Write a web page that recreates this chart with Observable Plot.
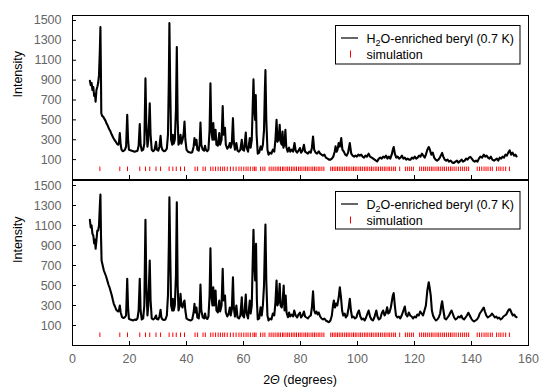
<!DOCTYPE html>
<html><head><meta charset="utf-8">
<script src="https://cdn.jsdelivr.net/npm/d3@7"></script>
<script src="https://cdn.jsdelivr.net/npm/@observablehq/plot@0.6"></script>
<style>body{margin:0;background:#fff;} #chart{width:539px;} #chart svg{display:block;}</style>
</head><body><div id="chart"></div>
<script>
const xTicks = [0, 20, 40, 60, 80, 100, 120, 140, 160];
const yTicks = [100, 300, 500, 700, 900, 1100, 1300, 1500];
const axisLabelY = "Intensity";
const axisLabelX = ["2", "Θ", " (degrees)"];
const legendH2O = ["H", "2", "O-enriched beryl (0.7 K)"];
const legendD2O = ["D", "2", "O-enriched beryl (0.7 K)"];
const simLabel = "simulation";

const simulationPeaks = [9.6, 16.6, 19.3, 23.6, 25.6, 27.1, 29.3, 30.9, 33.9, 35.2, 36.4, 37.9, 39.3,
  43.0, 43.9, 45.8, 46.6, 48.5, 49.3, 50.2, 51.1, 51.9, 52.7, 53.4, 54.3, 55.4, 56.4, 57.4, 58.4,
  59.2, 60.1, 60.9, 61.6, 62.4, 63.3, 63.9, 64.4, 66.0, 66.8, 67.5,
  69.0, 69.7, 70.4, 71.1, 71.8, 72.4, 73.0, 73.7, 74.2, 74.9, 75.5, 76.1, 76.8, 77.4, 78.0, 78.6,
  79.3, 79.9, 80.5, 81.2, 81.8, 82.4, 83.0, 83.7, 84.3, 84.9, 85.5, 86.2, 86.8, 87.5, 88.2,
  90.6, 91.2, 91.8, 92.4, 93.0, 93.6, 94.2, 94.8, 95.5, 96.1, 96.7, 97.3, 98.0, 98.6, 99.2, 99.8,
  100.5, 101.1, 101.7, 102.4, 103.0, 103.6, 104.3, 104.9, 105.5, 106.2, 106.8, 107.4, 108.1, 108.7,
  109.4, 110.0, 110.7, 111.3, 112.0, 112.7, 113.3, 114.8, 116.8, 117.5, 118.2, 118.9, 119.6,
  121.8, 122.5, 123.2, 123.8, 124.5, 125.2, 125.9, 126.5, 127.2, 127.9, 128.5, 129.2, 129.9, 130.5,
  131.2, 131.9, 132.6, 133.2, 133.9, 134.6, 135.4, 136.2, 136.9, 137.6, 138.3, 139.0,
  142.0, 142.8, 143.6, 144.4, 145.1, 145.8, 146.6, 147.3, 148.8, 149.6, 150.3, 151.1, 152.0, 153.3];

const h2oPattern = [[6.1,893],[6.4,850],[6.7,870],[7.0,800],[7.3,830],[7.6,740],[7.9,760],[8.1,683],[8.4,800],[8.7,830],[9.0,870],[9.3,950],[9.6,1200],[9.8,1433],[10.0,900],[10.1,567],[10.4,540],[10.8,530],[11.2,510],[11.6,490],[12.0,460],[12.4,440],[12.8,410],[13.3,385],[13.8,350],[14.3,320],[14.8,295],[15.2,280],[15.6,260],[16.0,250],[16.3,270],[16.6,367],[16.9,250],[17.2,200],[17.6,185],[18.0,190],[18.4,200],[18.8,230],[19.2,550],[19.5,300],[19.8,200],[20.3,195],[20.8,190],[21.3,185],[21.8,180],[22.3,185],[22.8,190],[23.2,240],[23.6,457],[23.9,250],[24.3,190],[24.8,200],[25.2,260],[25.6,917],[25.9,450],[26.3,230],[26.6,300],[27.1,667],[27.4,350],[27.8,200],[28.3,185],[28.8,200],[29.3,280],[29.6,200],[30.1,190],[30.5,230],[30.9,340],[31.2,230],[31.6,195],[32.1,185],[32.6,190],[33.1,210],[33.5,350],[33.8,900],[34.0,1473],[34.3,800],[34.6,300],[35.0,250],[35.2,350],[35.5,260],[35.9,300],[36.3,600],[36.6,1233],[36.9,500],[37.2,250],[37.6,280],[37.9,350],[38.2,260],[38.6,300],[39.0,360],[39.3,483],[39.6,300],[40.0,200],[40.5,180],[41.0,175],[41.5,170],[42.0,175],[42.5,230],[42.8,317],[43.1,250],[43.5,300],[43.8,200],[44.3,190],[44.6,250],[44.9,473],[45.2,250],[45.7,200],[46.2,190],[46.5,240],[46.8,200],[47.3,185],[47.7,200],[48.1,400],[48.4,867],[48.7,400],[49.1,300],[49.4,467],[49.7,300],[50.0,330],[50.2,400],[50.5,250],[51.0,240],[51.5,367],[51.8,250],[52.3,300],[52.7,640],[53.0,350],[53.5,420],[53.8,250],[54.3,210],[54.8,230],[55.2,267],[55.5,220],[55.9,260],[56.3,517],[56.6,280],[57.0,200],[57.5,267],[57.9,190],[58.4,180],[58.9,200],[59.4,300],[59.7,200],[60.2,190],[60.8,373],[61.1,220],[61.6,180],[62.2,317],[62.5,220],[62.9,300],[63.2,600],[63.5,907],[63.8,600],[64.1,500],[64.3,750],[64.6,350],[65.0,160],[65.5,170],[66.0,233],[66.4,200],[66.8,250],[67.2,400],[67.5,800],[67.7,1000],[68.0,500],[68.4,200],[68.8,150],[69.3,170],[69.8,160],[70.3,200],[70.8,180],[71.2,300],[71.6,500],[71.9,280],[72.3,300],[72.7,450],[73.0,280],[73.4,250],[73.7,383],[74.0,220],[74.4,260],[74.7,400],[75.0,230],[75.5,180],[76.0,220],[76.4,180],[76.9,200],[77.4,180],[77.9,267],[78.3,190],[78.8,170],[79.3,190],[79.8,217],[80.2,170],[80.7,190],[81.2,250],[81.6,180],[82.1,170],[82.6,160],[83.1,180],[83.6,170],[84.0,220],[84.4,333],[84.8,200],[85.3,170],[85.8,160],[86.4,183],[86.9,160],[87.4,150],[87.9,140],[88.4,150],[88.9,120],[89.5,110],[90.0,100],[90.5,100],[91.0,110],[91.5,130],[92.0,180],[92.3,233],[92.7,180],[93.0,200],[93.4,267],[93.8,230],[94.3,317],[94.7,200],[95.2,180],[95.7,150],[96.2,140],[96.7,170],[97.3,267],[97.8,160],[98.3,140],[98.8,130],[99.3,140],[99.8,130],[100.3,150],[100.8,140],[101.3,150],[101.8,130],[102.3,120],[102.8,140],[103.3,130],[103.9,160],[104.4,130],[105.0,120],[105.5,110],[106.0,100],[106.5,90],[106.9,83],[107.5,110],[108.0,120],[108.5,110],[109.0,130],[109.5,120],[110.0,140],[110.5,110],[111.0,130],[111.5,110],[112.0,150],[112.4,200],[112.7,227],[113.1,160],[113.6,120],[114.1,130],[114.6,110],[115.1,120],[115.6,140],[116.1,110],[116.6,120],[117.1,100],[117.6,110],[118.1,100],[118.6,100],[119.1,120],[119.6,110],[120.1,130],[120.6,110],[121.1,120],[121.6,140],[122.1,130],[122.6,160],[123.1,140],[123.6,120],[124.0,150],[124.5,200],[125.0,227],[125.4,200],[125.9,150],[126.4,170],[126.9,120],[127.4,100],[127.9,90],[128.4,100],[128.9,120],[129.4,150],[129.7,167],[130.1,130],[130.6,100],[131.1,90],[131.6,100],[132.1,80],[132.7,90],[133.3,70],[133.8,67],[134.4,80],[134.9,90],[135.4,70],[136.0,85],[136.5,100],[137.0,80],[137.6,90],[138.1,110],[138.6,100],[139.1,120],[139.6,127],[140.1,110],[140.6,90],[141.1,80],[141.6,90],[142.1,80],[142.6,110],[143.1,130],[143.7,120],[144.3,150],[144.8,130],[145.3,140],[145.8,120],[146.3,110],[146.8,130],[147.3,100],[147.9,90],[148.4,100],[148.9,110],[149.4,90],[149.9,120],[150.4,110],[150.9,130],[151.4,120],[151.9,150],[152.4,140],[152.9,170],[153.4,193],[153.9,150],[154.4,170],[154.9,140],[155.4,150],[155.8,133]];

const d2oPattern = [[6.1,1157],[6.4,1080],[6.7,1100],[7.0,1017],[7.3,1000],[7.6,920],[7.9,960],[8.1,867],[8.4,950],[8.7,1050],[9.0,1050],[9.3,1100],[9.6,1300],[9.8,1410],[10.0,1000],[10.2,750],[10.6,700],[11.0,650],[11.4,620],[11.8,590],[12.2,550],[12.6,510],[13.0,480],[13.3,450],[13.8,400],[14.2,350],[14.5,317],[14.9,290],[15.3,260],[15.6,250],[16.0,240],[16.3,250],[16.6,300],[16.9,230],[17.4,183],[17.8,175],[18.3,180],[18.8,200],[19.2,567],[19.5,280],[19.8,167],[20.3,160],[20.8,155],[21.3,150],[21.8,160],[22.3,155],[22.8,170],[23.2,250],[23.6,567],[23.9,250],[24.3,160],[24.8,170],[25.2,300],[25.6,1157],[25.9,500],[26.3,200],[26.6,300],[27.1,750],[27.4,350],[27.8,170],[28.3,160],[28.8,170],[29.3,200],[29.6,165],[30.1,160],[30.5,190],[30.9,257],[31.2,180],[31.6,160],[32.1,155],[32.6,160],[33.1,200],[33.5,400],[33.8,900],[34.0,1383],[34.3,800],[34.6,300],[35.0,250],[35.2,367],[35.5,250],[35.9,300],[36.3,600],[36.6,1333],[36.9,500],[37.2,250],[37.6,300],[37.9,417],[38.2,300],[38.6,280],[39.0,330],[39.3,350],[39.6,250],[40.0,170],[40.5,160],[41.0,155],[41.5,150],[42.0,160],[42.5,230],[42.8,317],[43.1,230],[43.5,280],[43.8,180],[44.3,170],[44.6,250],[44.9,510],[45.2,250],[45.7,180],[46.2,170],[46.5,220],[46.8,180],[47.3,165],[47.7,190],[48.1,400],[48.4,873],[48.7,400],[49.1,300],[49.4,483],[49.7,300],[50.0,330],[50.2,450],[50.5,250],[51.0,230],[51.5,350],[51.8,240],[52.3,300],[52.7,667],[53.0,350],[53.5,400],[53.8,230],[54.3,190],[54.8,220],[55.2,280],[55.5,200],[55.9,260],[56.3,583],[56.6,280],[57.0,190],[57.5,300],[57.9,180],[58.4,170],[58.9,200],[59.4,383],[59.7,200],[60.2,180],[60.8,410],[61.1,220],[61.6,170],[62.2,350],[62.5,220],[62.9,300],[63.2,700],[63.5,1057],[63.8,700],[64.1,550],[64.4,917],[64.7,350],[65.0,160],[65.5,170],[66.0,283],[66.4,200],[66.8,300],[67.2,500],[67.5,900],[67.7,1110],[68.0,550],[68.4,200],[68.8,150],[69.3,170],[69.8,160],[70.3,220],[70.8,200],[71.2,330],[71.6,550],[71.9,300],[72.3,330],[72.7,517],[73.0,300],[73.4,280],[73.7,333],[74.1,500],[74.4,250],[74.8,400],[75.1,230],[75.6,183],[76.0,230],[76.4,190],[76.9,210],[77.4,190],[77.8,250],[78.3,200],[78.8,180],[79.3,210],[79.8,230],[80.2,180],[80.7,200],[81.2,240],[81.6,190],[82.1,180],[82.6,170],[83.1,190],[83.6,200],[84.0,280],[84.4,443],[84.8,250],[85.2,220],[85.6,240],[86.0,210],[86.4,230],[86.9,190],[87.4,170],[87.9,160],[88.4,170],[88.9,150],[89.5,140],[90.0,133],[90.5,150],[91.0,200],[91.4,300],[91.7,350],[92.1,280],[92.5,320],[92.9,300],[93.4,380],[93.8,483],[94.2,383],[94.6,250],[95.0,200],[95.5,220],[95.9,180],[96.4,200],[96.9,280],[97.3,367],[97.7,250],[98.1,180],[98.6,190],[99.1,170],[99.6,180],[100.0,220],[100.5,250],[101.0,190],[101.5,160],[102.0,170],[102.5,150],[103.0,180],[103.5,220],[103.9,250],[104.4,190],[104.9,160],[105.4,150],[105.9,180],[106.3,220],[106.6,250],[107.0,190],[107.5,160],[108.0,170],[108.5,220],[109.0,250],[109.5,200],[110.0,230],[110.4,283],[110.8,220],[111.2,230],[111.7,280],[112.1,350],[112.4,400],[112.7,423],[113.1,300],[113.5,200],[114.0,180],[114.5,190],[115.0,170],[115.5,200],[116.0,240],[116.6,290],[117.0,210],[117.5,190],[118.0,230],[118.5,200],[119.0,190],[119.5,170],[120.0,190],[120.5,180],[121.0,210],[121.5,200],[122.0,240],[122.5,220],[123.0,200],[123.5,250],[124.0,300],[124.5,450],[125.0,533],[125.3,480],[125.7,400],[126.1,250],[126.5,200],[127.0,170],[127.5,150],[128.0,160],[128.5,180],[129.0,220],[129.4,300],[129.7,343],[130.1,260],[130.6,170],[131.1,160],[131.6,180],[132.1,200],[132.6,230],[133.0,250],[133.4,220],[133.9,180],[134.4,160],[134.9,170],[135.4,190],[135.9,180],[136.4,200],[136.9,170],[137.4,160],[137.9,180],[138.4,200],[138.9,227],[139.4,200],[139.9,170],[140.4,150],[140.9,140],[141.4,150],[141.9,160],[142.4,180],[142.9,220],[143.4,240],[143.9,263],[144.3,280],[144.7,240],[145.2,200],[145.7,180],[146.2,190],[146.7,200],[147.2,220],[147.7,200],[148.2,180],[148.7,190],[149.2,170],[149.7,180],[150.2,160],[150.7,170],[151.2,190],[151.7,200],[152.2,210],[152.7,240],[153.1,260],[153.5,263],[154.0,230],[154.5,200],[155.0,210],[155.4,190],[155.8,183]];

const FONT = "'Liberation Sans', Arial, Helvetica, sans-serif";

function panel(pattern, legend, isBottom) {
  const mt = isBottom ? 0 : 15;
  const mb = isBottom ? 43 : 1;
  const h = isBottom ? 208 : 180;
  const plot = Plot.plot({
    width: 539, height: h,
    marginLeft: 72, marginRight: 11, marginTop: mt, marginBottom: mb,
    x: {domain: [0, 160]},
    y: {domain: [-100, 1550]},
    style: {fontFamily: FONT, fontSize: "12.5px", background: "white", color: "black"},
    marks: [
      Plot.ruleX(simulationPeaks, {x: d => d, y1: -20, y2: 25, stroke: "#ff0000", strokeWidth: 1}),
      Plot.line(pattern, {stroke: "black", strokeWidth: 2.1, strokeLinejoin: "round"}),
      Plot.axisY(yTicks, {anchor: "left", tickSize: -4, tickPadding: 15, stroke: "black", fill: "#666", label: null, fontSize: 12.5,
        tickFormat: d => String(d)}),
      Plot.axisX(xTicks, {anchor: "bottom", tickSize: -4, tickPadding: 13, stroke: "black", fill: "#666", label: null, fontSize: 12.5,
        tickFormat: isBottom ? (d => String(d)) : (() => "")}),
      Plot.frame({stroke: "black", strokeWidth: 1}),
      Plot.text([axisLabelY], {frameAnchor: "left", dx: -55, rotate: -90, fill: "black", fontSize: 12.5, text: d => d})
    ]
  });
  const svg = d3.select(plot);
  const ly = isBottom ? 11.5 : 25.5;
  const lh = isBottom ? 37.5 : 38.5;
  const g = svg.append("g").attr("font-family", FONT).attr("font-size", 12.5).attr("text-anchor", "start");
  g.append("rect").attr("x", 335.5).attr("y", ly).attr("width", 184.5).attr("height", lh)
    .attr("fill", "white").attr("stroke", "black").attr("stroke-width", 1);
  const row1 = ly + 12.5, row2 = ly + 29;
  g.append("line").attr("x1", 341).attr("x2", 358).attr("y1", row1).attr("y2", row1).attr("stroke", "black").attr("stroke-width", 1.2);
  const t = g.append("text").attr("x", 366.5).attr("y", row1 + 4.5).attr("fill", "black");
  t.append("tspan").text(legend[0]);
  t.append("tspan").attr("dy", 3).attr("font-size", 9).text(legend[1]);
  t.append("tspan").attr("dy", -3).text(legend[2]);
  g.append("line").attr("x1", 350.5).attr("x2", 350.5).attr("y1", row2 - 4).attr("y2", row2 + 3).attr("stroke", "#ff0000").attr("stroke-width", 1);
  g.append("text").attr("x", 366.5).attr("y", row2 + 4.5).attr("fill", "black").text(simLabel);
  if (isBottom) {
    const xl = svg.append("text").attr("x", 300).attr("y", 204).attr("text-anchor", "middle")
      .attr("font-family", FONT).attr("font-size", 12.5).attr("fill", "black");
    xl.append("tspan").text(axisLabelX[0]);
    xl.append("tspan").attr("font-style", "italic").text(axisLabelX[1]);
    xl.append("tspan").text(axisLabelX[2]);
  }
  return plot;
}

const chart = document.getElementById("chart");
chart.appendChild(panel(h2oPattern, legendH2O, false));
chart.appendChild(panel(d2oPattern, legendD2O, true));
</script>
</body></html>
